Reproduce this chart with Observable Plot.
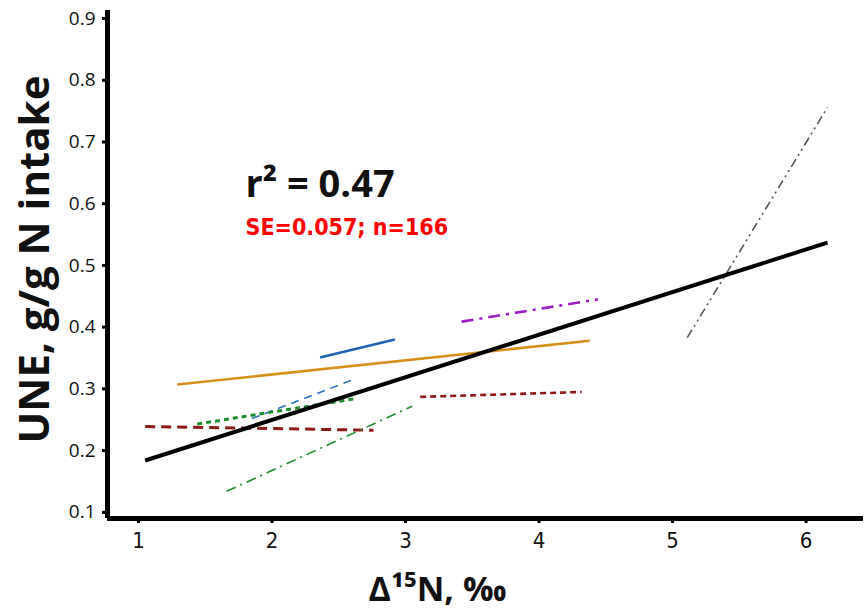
<!DOCTYPE html>
<html><head><meta charset="utf-8">
<script src="https://cdn.jsdelivr.net/npm/d3@7"></script>
<script src="https://cdn.jsdelivr.net/npm/@observablehq/plot@0.6"></script>
<style>
body{margin:0;background:#fff}
g[aria-label="y-axis tick label"]{font-size:19px;}
g[aria-label="x-axis tick label"]{font-size:22px;}
</style>
</head><body><div id="chart"></div>
<script>
// Tick labels
const xTicks = [1, 2, 3, 4, 5, 6];
const yTicks = [0.1, 0.2, 0.3, 0.4, 0.5, 0.6, 0.7, 0.8, 0.9];

// Regression line segments (one per study + pooled fit)
const seriesNames = ["orange", "blueSolid", "blueDashed", "greenDotted", "redLong", "greenDashDot", "redShort", "purple", "gray", "pooled"];
const xStart = [1.29, 2.36, 1.85, 1.44, 1.05, 1.66, 3.11, 3.42, 5.11, 1.05];
const yStart = [0.307, 0.351, 0.252, 0.243, 0.239, 0.134, 0.287, 0.409, 0.383, 0.184];
const xEnd   = [4.38, 2.92, 2.62, 2.62, 2.76, 3.05, 4.32, 4.44, 6.16, 6.16];
const yEnd   = [0.378, 0.380, 0.316, 0.284, 0.233, 0.272, 0.295, 0.445, 0.756, 0.537];

// Styles per series
const styles = {
  orange:       {stroke: "#D4901A", strokeWidth: 2.6, dash: null},
  blueSolid:    {stroke: "#1F63B5", strokeWidth: 2.6, dash: null},
  blueDashed:   {stroke: "#2A6FC0", strokeWidth: 1.6, dash: "8,6"},
  greenDotted:  {stroke: "#1E8C2E", strokeWidth: 3, dash: "5,4"},
  redLong:      {stroke: "#8E1A1A", strokeWidth: 3, dash: "10,6"},
  greenDashDot: {stroke: "#1E8C2E", strokeWidth: 1.6, dash: "10,5,2,5"},
  redShort:     {stroke: "#8E1A1A", strokeWidth: 2.6, dash: "6,4"},
  purple:       {stroke: "#9A1FC6", strokeWidth: 2.6, dash: "12,6,3,6"},
  gray:         {stroke: "#555555", strokeWidth: 1.6, dash: "9,4,2,4,2,4"},
  pooled:       {stroke: "#000000", strokeWidth: 4, dash: null}
};

const segments = seriesNames.map((name, i) => ({name, x1: xStart[i], y1: yStart[i], x2: xEnd[i], y2: yEnd[i]}));

const xDomain = [0.768, 6.43];
const yDomain = [0.09, 0.913];
const narrow = "'Liberation Sans Narrow', 'DejaVu Sans Condensed', 'Open Sans', sans-serif";

const lineMarks = segments.map(s => {
  const st = styles[s.name];
  return Plot.link([s], {x1: "x1", y1: "y1", x2: "x2", y2: "y2",
    stroke: st.stroke, strokeWidth: st.strokeWidth, strokeDasharray: st.dash, strokeLinecap: "butt"});
});

const chart = Plot.plot({
  width: 865, height: 610,
  marginLeft: 107, marginRight: 2, marginTop: 10, marginBottom: 92,
  style: {background: "#fff", fontFamily: "'Open Sans', sans-serif"},
  x: {domain: xDomain},
  y: {domain: yDomain},
  marks: [
    Plot.axisY({ticks: yTicks, tickSize: 5, tickPadding: 7, strokeWidth: 3, fontSize: 19, fill: "#111", label: null, tickFormat: d3.format(".1f")}),
    Plot.axisX({ticks: xTicks, tickSize: 5, tickPadding: 9, strokeWidth: 3, fontSize: 22, fill: "#111", label: null, tickFormat: d3.format("d"), fontFamily: narrow, fontStretch: "condensed"}),
    ...lineMarks,
    Plot.ruleX([xDomain[0]], {strokeWidth: 5}),
    Plot.ruleY([yDomain[0]], {strokeWidth: 5}),
    Plot.text(["r² = 0.47"], {frameAnchor: "top-left", dx: 138, dy: 160, textAnchor: "start", lineAnchor: "top", fontSize: 38, fontWeight: "bold", fill: "#111"}),
    Plot.text(["SE=0.057; n=166"], {frameAnchor: "top-left", dx: 138, dy: 208, textAnchor: "start", lineAnchor: "top", fontSize: 23, fontWeight: "bold", fill: "#FF0000", fontFamily: narrow}),
    Plot.text(["Δ¹⁵N, ‰"], {frameAnchor: "bottom", dx: -48, dy: 72, lineAnchor: "middle", fontSize: 34, fontWeight: "bold", fill: "#111"}),
    Plot.text(["UNE, g/g N intake"], {frameAnchor: "left", dx: -72, dy: -5, rotate: -90, textAnchor: "middle", lineAnchor: "middle", fontSize: 42, fontWeight: "bold", fill: "#111"})
  ]
});
document.getElementById("chart").append(chart);
</script>
</body></html>
